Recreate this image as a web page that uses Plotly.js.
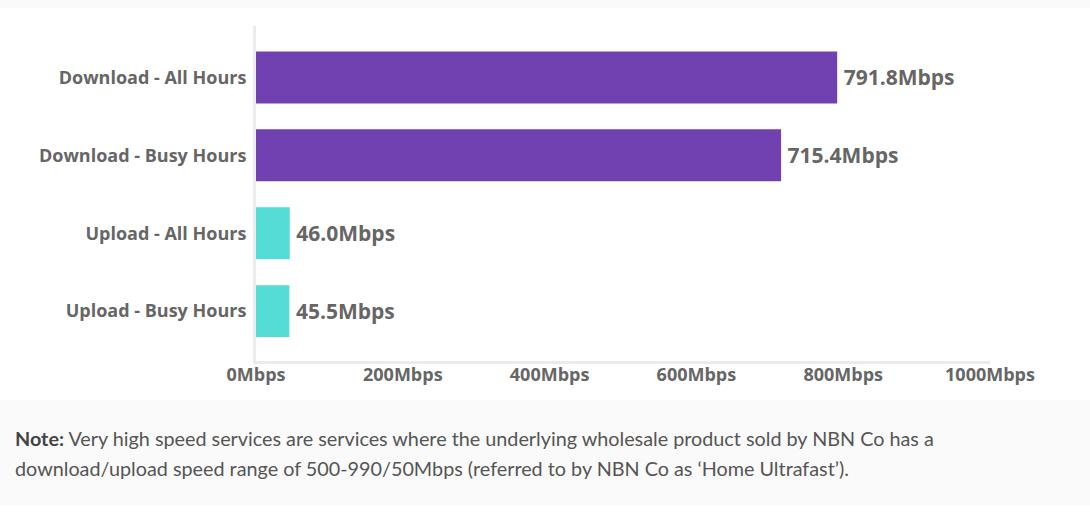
<!DOCTYPE html>
<html>
<head>
<meta charset="utf-8">
<script src="https://cdn.plot.ly/plotly-3.0.1.min.js"></script>
<style>
  body { margin: 0; background: #fff; }
  #strip { height: 8px; background: #fafafa; }
  #chart { width: 1090px; height: 392px; }
  #note {
    background: #fafafa;
    height: 105px;
    box-sizing: border-box;
    padding: 23px 15px 0 15px;
    font-family: Lato, sans-serif;
    font-size: 19.8px;
    line-height: 30px;
    color: #555;
  }
  #note b { color: #444; }
</style>
</head>
<body>
<div id="strip"></div>
<div id="chart"></div>
<div id="note"><b>Note:</b> Very high speed services are services where the underlying wholesale product sold by NBN Co has a<br>download/upload speed range of 500-990/50Mbps (referred to by NBN Co as ‘Home Ultrafast’).</div>
<script>
"use strict";

const categories = [
    "Download - All Hours",
    "Download - Busy Hours",
    "Upload - All Hours",
    "Upload - Busy Hours"
];
const speeds = [791.8, 715.4, 46.0, 45.5];
const barColors = ["#7140b1", "#7140b1", "#56dcd7", "#56dcd7"];
const tickValues = [0, 200, 400, 600, 800, 1000];
const tickLabels = ["0Mbps", "200Mbps", "400Mbps", "600Mbps", "800Mbps", "1000Mbps"];

const labelFont = { family: "Open Sans, sans-serif", size: 18, color: "#666", weight: 700 };

const trace = {
    type: "bar",
    orientation: "h",
    x: speeds,
    y: categories,
    marker: { color: barColors },
    // small lead space pushes the value a little off the bar end
    text: speeds.map(v => "\u2009" + v.toFixed(1) + "Mbps"),
    textposition: "outside",
    cliponaxis: false,
    textfont: { family: "Open Sans, sans-serif", size: 21, color: "#666", weight: 700 },
    hoverinfo: "none"
};

const layout = {
    width: 1090,
    height: 392,
    margin: { t: 18, b: 39, l: 256, r: 100 },
    paper_bgcolor: "#fff",
    plot_bgcolor: "#fff",
    bargap: 0.333,
    showlegend: false,
    xaxis: {
        range: [0, 1000],
        tickvals: tickValues,
        ticktext: tickLabels,
        tickfont: labelFont,
        showgrid: false,
        zeroline: false,
        showline: true,
        linecolor: "#ebebeb",
        linewidth: 3,
        ticks: "",
        ticklabelstandoff: -5,
        fixedrange: true
    },
    yaxis: {
        type: "category",
        range: [3.64, -0.66],
        autorange: false,
        tickfont: labelFont,
        showgrid: false,
        zeroline: false,
        showline: true,
        linecolor: "#ebebeb",
        linewidth: 3,
        ticks: "",
        ticklabelstandoff: 3,
        fixedrange: true
    }
};

Plotly.newPlot("chart", [trace], layout, { displayModeBar: false, staticPlot: true });
</script>
</body>
</html>
